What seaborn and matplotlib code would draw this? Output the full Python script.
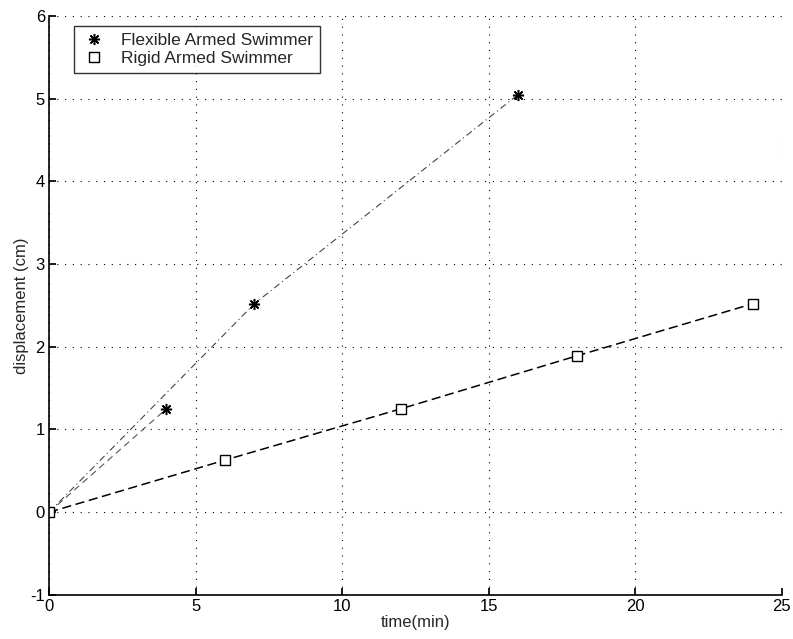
import pandas as pd
import matplotlib
matplotlib.use("Agg")
import matplotlib.pyplot as plt
import seaborn as sns

# flexible armed swimmer, two runs starting at the origin
flex_run1_time = [0, 4]
flex_run1_disp = [0, 1.25]
flex_run2_time = [0, 7, 16]
flex_run2_disp = [0, 2.52, 5.05]

# rigid armed swimmer
rigid_time = [0, 6, 12, 18, 24]
rigid_disp = [0, 0.63, 1.25, 1.89, 2.52]

x_ticks = [0, 5, 10, 15, 20, 25]
y_ticks = [-1, 0, 1, 2, 3, 4, 5, 6]

sns.set_theme(style="ticks")
plt.rcParams['font.family'] = ['Liberation Sans', 'DejaVu Sans']
plt.rcParams['axes.unicode_minus'] = False

fig = plt.figure(figsize=(7.93, 6.39), dpi=100)
ax = fig.add_axes([0.062, 0.069, 0.924, 0.906])

df_f1 = pd.DataFrame({'t': flex_run1_time, 'd': flex_run1_disp})
df_f2 = pd.DataFrame({'t': flex_run2_time, 'd': flex_run2_disp})
df_r = pd.DataFrame({'t': rigid_time, 'd': rigid_disp})

# lines first
sns.lineplot(data=df_f1, x='t', y='d', ax=ax, color='#555555', lw=0.8,
             linestyle=(0, (6, 4)), sort=False)
sns.lineplot(data=df_f2, x='t', y='d', ax=ax, color='#444444', lw=0.8,
             linestyle=(0, (6, 3, 1, 3)), sort=False)
sns.lineplot(data=df_r, x='t', y='d', ax=ax, color='black', lw=1.1,
             linestyle=(0, (6, 3)), sort=False)

# markers
ax.plot(flex_run1_time + flex_run2_time, flex_run1_disp + flex_run2_disp,
        linestyle='none', marker=(8, 2, 0), ms=8, mew=1.1, color='black',
        label='Flexible Armed Swimmer')
ax.plot(rigid_time, rigid_disp, linestyle='none', marker='s', ms=7,
        mfc='white', mec='black', mew=1.0, label='Rigid Armed Swimmer')

ax.set_xlim(0, 25)
ax.set_ylim(-1, 6)
ax.set_xticks(x_ticks)
ax.set_yticks(y_ticks)
ax.grid(True, linestyle=(0, (1, 6)), color='black', lw=0.8)
ax.tick_params(direction='in', length=5, labelsize=12, colors='black', pad=3)
for s in ['top', 'right']:
    ax.spines[s].set_visible(False)
for s in ['left', 'bottom']:
    ax.spines[s].set_color('black')
    ax.spines[s].set_linewidth(1.2)

ax.set_xlabel('time(min)', fontsize=12, labelpad=1)
ax.set_ylabel('displacement (cm)', fontsize=12, labelpad=1)

leg = ax.legend(loc='upper left', bbox_to_anchor=(0.022, 0.997), fontsize=12.5,
                frameon=True, fancybox=False, borderpad=0.4, handlelength=1.5,
                handletextpad=0.8, labelspacing=0.15)
leg.get_frame().set_edgecolor('black')
leg.get_frame().set_linewidth(1.0)

fig.savefig('out.png', dpi=100)
